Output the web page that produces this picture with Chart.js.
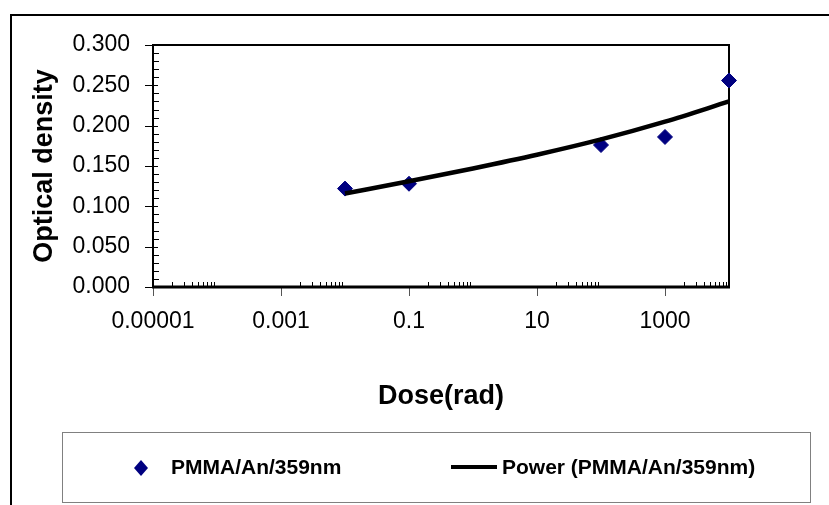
<!DOCTYPE html>
<html>
<head>
<meta charset="utf-8">
<title>Optical density x Dose</title>
<script src="https://cdn.jsdelivr.net/npm/chart.js@4.4.1/dist/chart.umd.min.js"></script>
<style>
    html, body { margin: 0; padding: 0; background: #fff; }
    #wrap { width: 829px; height: 505px; }
</style>
</head>
<body>
<div id="wrap"><canvas id="grafico" width="829" height="505"></canvas></div>
<script>
// Dados
const doses = [0.01, 0.1, 100, 1000, 10000];
const densidades = [0.122, 0.128, 0.176, 0.186, 0.256];

// Linha de tendência (potência), lida ponto a ponto
const dosesTendencia = [0.01, 0.1, 1, 10, 100, 1000, 10000];
const densidadesTendencia = [0.116, 0.131, 0.147, 0.164, 0.183, 0.205, 0.230];

// Eixos
const ticksX = [0.00001, 0.001, 0.1, 10, 1000];
const rotulosX = ['0.00001', '0.001', '0.1', '10', '1000'];
const ticksY = [0, 0.05, 0.1, 0.15, 0.2, 0.25, 0.3];

const nomeSerie = 'PMMA/An/359nm';
const nomeTendencia = 'Power (PMMA/An/359nm)';

const fonte = "'Liberation Sans', Arial, sans-serif";
const azul = '#000080';

// Moldura, eixos, marcas e legenda ao estilo Excel
const molduraPlugin = {
    id: 'moldura',
    beforeDatasetsDraw(chart) {
        const ctx = chart.ctx;
        const a = chart.chartArea;
        const sx = chart.scales.x;
        const sy = chart.scales.y;
        ctx.save();

        // borda externa
        ctx.strokeStyle = '#000';
        ctx.lineWidth = 2;
        ctx.strokeRect(11, 15, 900, 600);

        // borda da área do gráfico
        ctx.lineWidth = 2;
        ctx.beginPath();
        ctx.moveTo(a.left, a.bottom);
        ctx.lineTo(a.left, a.top);
        ctx.lineTo(a.right, a.top);
        ctx.lineTo(a.right, a.bottom);
        ctx.stroke();

        // marcas do eixo Y
        ctx.lineWidth = 1;
        for (let i = 0; i <= 30; i++) {
            const y = Math.round(sy.getPixelForValue(i / 100)) + 0.5;
            ctx.beginPath();
            if (i % 5 === 0) {
                ctx.moveTo(a.left - 8, y);
                ctx.lineTo(a.left + 5, y);
            } else {
                ctx.moveTo(a.left, y);
                ctx.lineTo(a.left + 6, y);
            }
            ctx.stroke();
        }

        // marcas do eixo X (log)
        for (let e = -5; e <= 3; e += 2) {
            const base = Math.pow(10, e);
            const xm = Math.round(sx.getPixelForValue(base)) + 0.5;
            ctx.strokeStyle = '#555';
            ctx.beginPath();
            ctx.moveTo(xm, a.bottom);
            ctx.lineTo(xm, a.bottom + 9);
            ctx.stroke();
            ctx.strokeStyle = '#000';
            for (let k = 2; k <= 9; k++) {
                const x = Math.round(sx.getPixelForValue(k * base)) + 0.5;
                ctx.beginPath();
                ctx.moveTo(x, a.bottom - 5);
                ctx.lineTo(x, a.bottom);
                ctx.stroke();
            }
        }

        // eixo X mais grosso
        ctx.lineWidth = 3;
        ctx.beginPath();
        ctx.moveTo(a.left - 1, a.bottom);
        ctx.lineTo(a.right + 1, a.bottom);
        ctx.stroke();
        ctx.restore();
    },
    afterDraw(chart) {
        const ctx = chart.ctx;
        const serie = chart.data.datasets[1];
        const tend = chart.data.datasets[0];
        ctx.save();

        // caixa da legenda
        ctx.strokeStyle = '#808080';
        ctx.lineWidth = 1;
        ctx.strokeRect(62.5, 432.5, 748, 70);

        const yl = 468;
        // losango
        ctx.fillStyle = serie.pointBackgroundColor;
        ctx.beginPath();
        ctx.moveTo(141, yl - 8);
        ctx.lineTo(148, yl);
        ctx.lineTo(141, yl + 8);
        ctx.lineTo(134, yl);
        ctx.closePath();
        ctx.fill();

        ctx.font = 'bold 21px ' + fonte;
        ctx.fillStyle = '#000';
        ctx.textBaseline = 'middle';
        ctx.textAlign = 'left';
        ctx.fillText(serie.label, 171, yl);

        // linha da tendência
        ctx.strokeStyle = tend.borderColor;
        ctx.lineWidth = 4;
        ctx.beginPath();
        ctx.moveTo(451, yl - 1);
        ctx.lineTo(497, yl - 1);
        ctx.stroke();
        ctx.fillText(tend.label, 502, yl);
        ctx.restore();
    }
};

const ctx = document.getElementById('grafico').getContext('2d');

new Chart(ctx, {
    type: 'scatter',
    data: {
        datasets: [
            {
                label: nomeTendencia,
                data: dosesTendencia.map((d, i) => ({ x: d, y: densidadesTendencia[i] })),
                showLine: true,
                borderColor: '#000',
                borderWidth: 4.5,
                pointRadius: 0,
                cubicInterpolationMode: 'monotone',
                fill: false,
                clip: false,
                order: 0
            },
            {
                label: nomeSerie,
                data: doses.map((d, i) => ({ x: d, y: densidades[i] })),
                showLine: false,
                pointStyle: 'rectRot',
                pointRadius: 7.5,
                pointBackgroundColor: azul,
                pointBorderColor: azul,
                pointBorderWidth: 1,
                clip: false,
                order: 1
            }
        ]
    },
    options: {
        responsive: false,
        animation: false,
        devicePixelRatio: 1,
        layout: {
            padding: { left: 20, top: 45, right: 100, bottom: 88 }
        },
        plugins: {
            legend: { display: false },
            tooltip: { enabled: false }
        },
        scales: {
            x: {
                type: 'logarithmic',
                min: 0.00001,
                max: 10000,
                grid: { display: false, drawTicks: false },
                border: { display: false },
                afterBuildTicks: (scale) => {
                    scale.ticks = ticksX.map(v => ({ value: v }));
                },
                afterFit: (scale) => { scale.height = 130; },
                ticks: {
                    autoSkip: false,
                    maxRotation: 0,
                    padding: 21,
                    color: '#000',
                    font: { family: fonte, size: 23 },
                    callback: (v) => rotulosX[ticksX.indexOf(v)]
                },
                title: {
                    display: true,
                    text: 'Dose(rad)',
                    color: '#000',
                    font: { family: fonte, size: 27, weight: 'bold' },
                    padding: { top: 0, bottom: 4 }
                }
            },
            y: {
                min: 0,
                max: 0.3,
                grid: { display: false, drawTicks: false },
                border: { display: false },
                afterBuildTicks: (scale) => {
                    scale.ticks = ticksY.map(v => ({ value: v }));
                },
                afterFit: (scale) => { scale.width = 133; },
                ticks: {
                    padding: 23,
                    color: '#000',
                    font: { family: fonte, size: 23 },
                    callback: (v) => Number(v).toFixed(3)
                },
                title: {
                    display: true,
                    text: 'Optical density',
                    color: '#000',
                    font: { family: fonte, size: 27, weight: 'bold' },
                    padding: { top: 8, bottom: 0 }
                }
            }
        }
    },
    plugins: [molduraPlugin]
});
</script>
</body>
</html>
